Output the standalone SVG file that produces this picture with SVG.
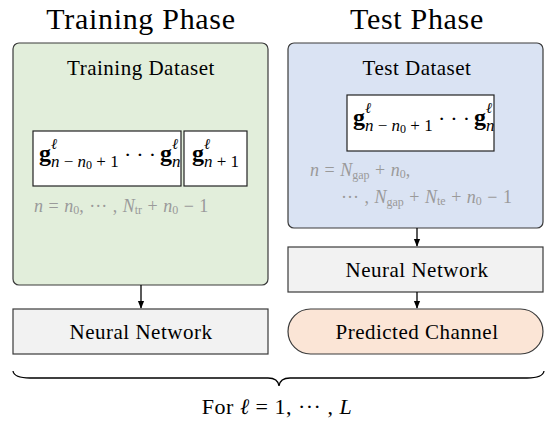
<svg xmlns="http://www.w3.org/2000/svg" width="551" height="429" viewBox="0 0 551 429">
<defs>
<marker id="arr" viewBox="0 0 10 10" refX="9" refY="5" markerWidth="6" markerHeight="6" orient="auto"><path d="M0,1 L10,5 L0,9 z" fill="#000"/></marker>
<style>
text{font-family:"Liberation Serif","DejaVu Serif",serif;fill:#000}
.title{font-size:30px;text-anchor:middle;letter-spacing:0.7px}
.lbl{font-size:21px;text-anchor:middle;letter-spacing:0.5px}
.g{font-size:24px;font-weight:bold}
.it{font-style:italic}
.sup{font-size:15px;font-style:italic}
.sub{font-size:17px}
.dots{font-size:22px}
.gray{fill:#9a9a9a;font-size:18px;word-spacing:1px}
.box{stroke:#3a3a3a;stroke-width:1.2}
.inner{fill:#fff;stroke:#222;stroke-width:1.2}
.conn{stroke:#000;stroke-width:1.3;fill:none}
</style>
</defs>
<text class="title" x="141" y="29">Training Phase</text>
<text class="title" x="417" y="29">Test Phase</text>

<g id="training-dataset">
<rect class="box" x="13" y="43" width="255" height="242" rx="6" fill="#e2eedb"/>
<text class="lbl" x="141" y="75">Training Dataset</text>
<rect class="inner" x="33" y="131" width="148" height="55"/>
<text class="g" x="39" y="161">g</text>
<text class="sup" x="51" y="149">ℓ</text>
<text class="sub" y="167"><tspan class="it" x="51">n</tspan><tspan> − </tspan><tspan class="it">n</tspan><tspan font-size="12" dy="2">0</tspan><tspan dy="-2"> + 1</tspan></text>
<text class="dots" x="124" y="162">·<tspan dx="5">·</tspan><tspan dx="5">·</tspan></text>
<text class="g" x="160" y="161">g</text>
<text class="sup" x="172" y="149">ℓ</text>
<text class="sub it" x="172" y="167">n</text>
<rect class="inner" x="184" y="131" width="63" height="55"/>
<text class="g" x="192" y="161">g</text>
<text class="sup" x="204" y="149">ℓ</text>
<text class="sub" y="167"><tspan class="it" x="204">n</tspan><tspan> + 1</tspan></text>
<text class="gray" y="212"><tspan class="it" x="34">n</tspan><tspan> = </tspan><tspan class="it">n</tspan><tspan font-size="12" dy="2">0</tspan><tspan dy="-2">, ··· , </tspan><tspan class="it">N</tspan><tspan font-size="12" dy="2">tr</tspan><tspan dy="-2"> + </tspan><tspan class="it">n</tspan><tspan font-size="12" dy="2">0</tspan><tspan dy="-2"> − 1</tspan></text>
</g>

<g id="test-dataset">
<rect class="box" x="288" y="43" width="255" height="185" rx="6" fill="#dae3f3"/>
<text class="lbl" x="417" y="75">Test Dataset</text>
<rect class="inner" x="347" y="95" width="147" height="56"/>
<text class="g" x="353" y="125">g</text>
<text class="sup" x="365" y="113">ℓ</text>
<text class="sub" y="131"><tspan class="it" x="365">n</tspan><tspan> − </tspan><tspan class="it">n</tspan><tspan font-size="12" dy="2">0</tspan><tspan dy="-2"> + 1</tspan></text>
<text class="dots" x="438" y="126">·<tspan dx="5">·</tspan><tspan dx="5">·</tspan></text>
<text class="g" x="474" y="125">g</text>
<text class="sup" x="486" y="113">ℓ</text>
<text class="sub it" x="486" y="131">n</text>
<text class="gray" y="176"><tspan class="it" x="310">n</tspan><tspan> = </tspan><tspan class="it">N</tspan><tspan font-size="12" dy="3">gap</tspan><tspan dy="-3"> + </tspan><tspan class="it">n</tspan><tspan font-size="12" dy="2">0</tspan><tspan dy="-2">,</tspan></text>
<text class="gray" y="203"><tspan x="341">··· , </tspan><tspan class="it">N</tspan><tspan font-size="12" dy="3">gap</tspan><tspan dy="-3"> + </tspan><tspan class="it">N</tspan><tspan font-size="12" dy="2">te</tspan><tspan dy="-2"> + </tspan><tspan class="it">n</tspan><tspan font-size="12" dy="2">0</tspan><tspan dy="-2"> − 1</tspan></text>
</g>

<g id="nn-train">
<rect class="box" x="13" y="309" width="255" height="45" fill="#f2f2f2"/>
<text class="lbl" x="141" y="339">Neural Network</text>
</g>

<g id="nn-test">
<rect class="box" x="288" y="247" width="255" height="45" fill="#f2f2f2"/>
<text class="lbl" x="417" y="277">Neural Network</text>
</g>

<g id="predicted">
<rect class="box" x="288" y="309" width="255" height="45" rx="22.5" fill="#fbe5d6"/>
<text class="lbl" x="417" y="339">Predicted Channel</text>
</g>

<g id="connectors">
<line class="conn" x1="141" y1="285" x2="141" y2="308" marker-end="url(#arr)"/>
<line class="conn" x1="417" y1="228" x2="417" y2="246" marker-end="url(#arr)"/>
<line class="conn" x1="417" y1="292" x2="417" y2="308" marker-end="url(#arr)"/>
</g>

<g id="brace">
<path class="conn" stroke-width="1.1" d="M13,371 Q14,378 30,378 L268,378 Q278,378 279,386 Q280,378 290,378 L527,378 Q543,378 544,371"/>
<text x="277" y="414" font-size="22" text-anchor="middle" letter-spacing="0.5">For <tspan font-style="italic">ℓ</tspan> = 1, ··· , <tspan font-style="italic">L</tspan></text>
</g>
</svg>
